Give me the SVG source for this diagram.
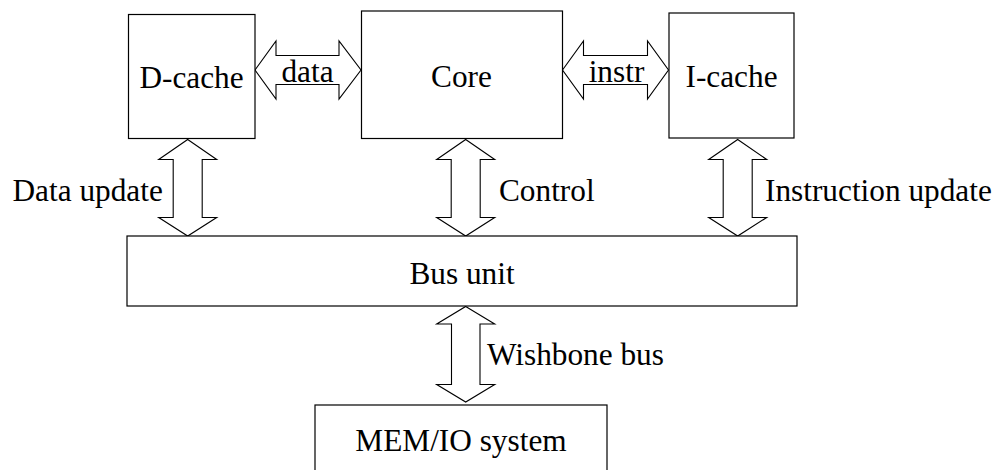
<svg xmlns="http://www.w3.org/2000/svg" width="999" height="470" viewBox="0 0 999 470">
<style>
.box{fill:#fff;stroke:#000;stroke-width:1.2}
.arr{fill:#fff;stroke:#000;stroke-width:1.1;stroke-linejoin:miter}
text{font-family:"Liberation Serif","Times New Roman",serif;font-size:31.3px;fill:#000}
.c{text-anchor:middle}
</style>
<rect width="999" height="470" fill="#fff"/>
<g id="connectors">
<polygon class="arr" points="255,70 276,41 276,55.5 339,55.5 339,41 361,70 339,99 339,84.5 276,84.5 276,99"/>
<polygon class="arr" points="562.5,70 583.5,41 583.5,55.5 647.5,55.5 647.5,41 668.5,70 647.5,99 647.5,84.5 583.5,84.5 583.5,99"/>
<polygon class="arr" points="187.7,139.5 216.7,159.5 202.2,159.5 202.2,217.5 216.7,217.5 187.7,236 158.7,217.5 173.2,217.5 173.2,159.5 158.7,159.5"/>
<polygon class="arr" points="465.7,139.5 494.7,159.5 480.2,159.5 480.2,217.5 494.7,217.5 465.7,236 436.7,217.5 451.2,217.5 451.2,159.5 436.7,159.5"/>
<polygon class="arr" points="737.7,139.5 766.7,159.5 752.2,159.5 752.2,217.5 766.7,217.5 737.7,236 708.7,217.5 723.2,217.5 723.2,159.5 708.7,159.5"/>
<polygon class="arr" points="465.7,306.5 494.7,324 480,324 480,384.5 494.7,384.5 465.7,402 436.7,384.5 451.5,384.5 451.5,324 436.7,324"/>
<text class="c" x="307.5" y="82">data</text>
<text class="c" x="616.5" y="82">instr</text>
<text x="12.5" y="200.5">Data update</text>
<text x="499" y="200.5">Control</text>
<text x="765" y="200.5">Instruction update</text>
<text x="487" y="364.5">Wishbone bus</text>
</g>
<g id="dcache">
<rect class="box" x="128.5" y="14.5" width="126.5" height="124"/>
<text class="c" x="191.5" y="88">D-cache</text>
</g>
<g id="core">
<rect class="box" x="361.5" y="11" width="201" height="127.5"/>
<text class="c" x="461.5" y="87">Core</text>
</g>
<g id="icache">
<rect class="box" x="669" y="13" width="125" height="125"/>
<text class="c" x="731.5" y="87">I-cache</text>
</g>
<g id="busunit">
<rect class="box" x="127" y="236" width="670" height="70"/>
<text class="c" x="462" y="283.5">Bus unit</text>
</g>
<g id="memio">
<rect class="box" x="315" y="405" width="292" height="80"/>
<text class="c" x="461" y="451">MEM/IO system</text>
</g>
</svg>
